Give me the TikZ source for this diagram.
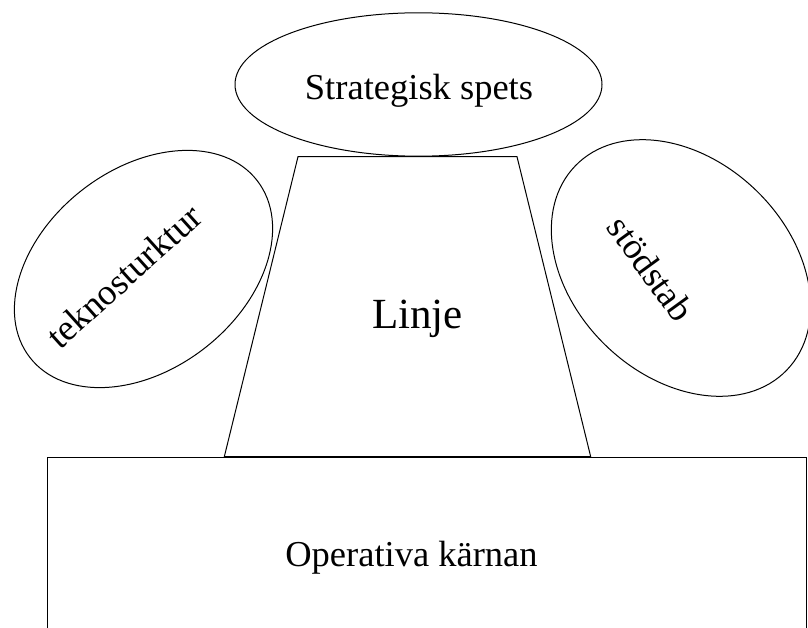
\documentclass[tikz,border=0pt]{standalone}
\usepackage{fontspec}
\setmainfont{Liberation Serif}
\usetikzlibrary{shapes.geometric}
\begin{document}
\begin{tikzpicture}[x=1pt,y=-1pt,
  outline/.style={draw=black, line width=1pt},
  oval/.style={outline, ellipse, inner sep=0pt},
  lbl/.style={font=\fontsize{36.5}{40}\selectfont, inner sep=0pt, anchor=base},
  biglbl/.style={font=\fontsize{43}{48}\selectfont, inner sep=0pt, anchor=base}]
\useasboundingbox (0,0) rectangle (808,628);
\clip (0,0) rectangle (808,628);
% top ellipse
\node[oval, minimum width=367pt, minimum height=143.4pt] (spets) at (418.5,84.5) {};
\node[lbl] (spetstxt) at (419,100) {Strategisk spets};
% left ellipse
\node[oval, minimum width=288pt, minimum height=200pt, rotate=38] (tekno) at (143.5,269) {};
\node[font=\fontsize{36.5}{40}\selectfont, inner sep=0pt, rotate=42] (teknotxt) at (124,276) {teknosturktur};
% right ellipse
\node[oval, minimum width=294pt, minimum height=216pt, rotate=-44] (stod) at (681,268) {};
\node[font=\fontsize{36.5}{40}\selectfont, inner sep=0pt, rotate=-54] (stodtxt) at (651,269) {stödstab};
% trapezoid
\coordinate (tl) at (298,156.7);
\coordinate (tr) at (517,156.7);
\coordinate (br) at (590.7,456.7);
\coordinate (bl) at (224.3,456.7);
\draw[outline] (tl) -- (tr) -- (br) -- (bl) -- cycle;
\node[biglbl] (linje) at (417.5,328.3) {Linje};
% operating core
\node[outline, rectangle, anchor=north west, inner sep=0pt, minimum width=759.1pt, minimum height=250pt] (kern) at (46.6,456.7) {};
\node[lbl] (kerntxt) at (411.5,566) {Operativa kärnan};
\end{tikzpicture}
\end{document}
